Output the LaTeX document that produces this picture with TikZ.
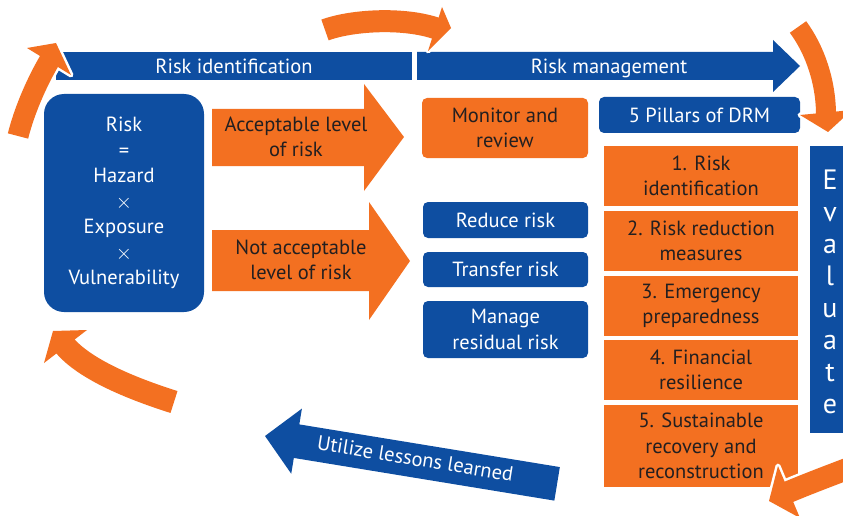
\documentclass[tikz,border=0pt]{standalone}
\usepackage{fontspec}
\setmainfont{PT Sans}
\usetikzlibrary{positioning}
\definecolor{drmblue}{RGB}{14,78,161}
\definecolor{drmorange}{RGB}{243,112,33}
\definecolor{drmtext}{RGB}{35,31,32}
% curved arrow: tail, control, control, shaft end, tip, barb, barb, width
\newcommand{\bendarrow}[8]{%
  \draw[white, line width=#8+5pt] #1 .. controls #2 and #3 .. #4;
  \filldraw[white, line width=5pt, line join=round] #5 -- #6 -- #7 -- cycle;
  \draw[drmorange, line width=#8] #1 .. controls #2 and #3 .. #4;
  \fill[drmorange] #5 -- #6 -- #7 -- cycle;}
\newcommand{\bigtimes}{$\times$}

\begin{document}
\begin{tikzpicture}[x=1pt, y=-1pt,
  every node/.style={font=\fontsize{20.5}{25.5}\selectfont, align=center, inner sep=0pt},
  bluebox/.style={fill=drmblue, text=white, rounded corners=5pt},
  orangebox/.style={fill=drmorange, text=drmtext, rounded corners=5pt},
  pillar/.style={fill=drmorange, text=drmtext, minimum width=194pt},
  evalletter/.style={text=white, font=\fontsize{28}{28}\selectfont, anchor=base}]
\useasboundingbox (0,0) rectangle (843,516);
%top bars
\node[fill=drmblue, text=white, minimum width=356pt, minimum height=28pt] (ident) at (234,66) {Risk identification};
\fill[drmblue] (417,52) -- (773,52) -- (773,40) -- (800,66) -- (773,92) -- (773,80) -- (417,80) -- cycle;
\node[text=white] (mgmt) at (609,68) {Risk management};
%risk formula
\node[bluebox, rounded corners=20pt, minimum width=160pt, minimum height=218pt] (risk) at (124,203)
  {Risk\\=\\Hazard\\\bigtimes\\Exposure\\\bigtimes\\Vulnerability};
%decision arrows
\fill[drmorange] (212,109) -- (364,109) -- (364,84) -- (404,137) -- (364,191) -- (364,166) -- (212,166) -- cycle;
\node[text=drmtext] (accept) at (296,137) {Acceptable level\\of risk};
\fill[drmorange] (212,230) -- (369,230) -- (369,202) -- (410,261) -- (369,320) -- (369,291) -- (212,291) -- cycle;
\node[text=drmtext] (notaccept) at (301,260) {Not acceptable\\level of risk};
%middle column
\node[orangebox, minimum width=166pt, minimum height=60pt] (monitor) at (505,128) {Monitor and\\review};
\node[bluebox, minimum width=165pt, minimum height=36pt] (reduce) at (505.5,220) {Reduce risk};
\node[bluebox, minimum width=165pt, minimum height=35pt] (transfer) at (505.5,269.5) {Transfer risk};
\node[bluebox, minimum width=165pt, minimum height=57pt] (residual) at (505.5,329.5) {Manage\\residual risk};
%pillars
\node[bluebox, minimum width=201pt, minimum height=36pt] (drm) at (699.5,115) {5 Pillars of DRM};
\node[pillar, minimum height=60pt] (p1) at (701,176) {1. Risk\\identification};
\node[pillar, minimum height=60pt] (p2) at (701,241) {2. Risk reduction\\measures};
\node[pillar, minimum height=60pt] (p3) at (701,306) {3. Emergency\\preparedness};
\node[pillar, minimum height=60pt] (p4) at (701,370) {4. Financial\\resilience};
\node[pillar, minimum height=82pt] (p5) at (701,446) {5. Sustainable\\recovery and\\reconstruction};
%evaluate
\node[fill=drmblue, minimum width=40pt, minimum height=287pt] (eval) at (830,289.5) {};
\foreach \ch [count=\i from 0] in {E,v,a,l,u,a,t,e}
  \node[evalletter] (ev\i) at (830,189+32*\i) {\ch};
%lessons learned
\begin{scope}[shift={(265,436)}, rotate=-9.3]
\fill[drmblue] (0,0) -- (32,-33) -- (32,-17) -- (296,-17) -- (296,17) -- (32,17) -- (32,33) -- cycle;
\node[text=white, rotate=-9.3] (lessons) at (152,-2) {Utilize lessons learned};
\end{scope}
%cycle arrows
\bendarrow{(18,136)}{(24,112)}{(36,83)}{(51,58)}{(56,43)}{(27,48)}{(71,75)}{21pt}
\bendarrow{(325,30)}{(352,20)}{(405,17)}{(438,29)}{(451,28)}{(442,7)}{(428,51)}{22pt}
\bendarrow{(798,27)}{(815,50)}{(826,82)}{(826,115)}{(828,132)}{(800,115)}{(852,110)}{20pt}
\bendarrow{(865,462)}{(845,470)}{(817,480)}{(786,493)}{(769,501)}{(778,466)}{(800,518)}{22pt}
\bendarrow{(174,402)}{(136,390)}{(84,370)}{(63.5,344)}{(53,331)}{(87,330)}{(44,363)}{23pt}
\end{tikzpicture}
\end{document}
